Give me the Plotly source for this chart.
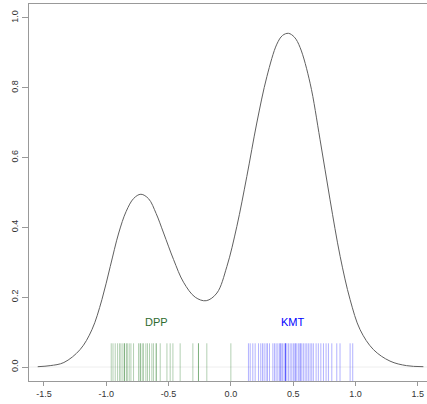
import plotly.graph_objects as go

# Density curve
dens_x = [-1.55, -1.45, -1.34, -1.21, -1.115, -1.035, -0.968, -0.90, -0.84, -0.78, -0.722,
          -0.66, -0.60, -0.54, -0.46, -0.38, -0.286, -0.198, -0.112, -0.032, 0.048, 0.128,
          0.208, 0.289, 0.369, 0.415, 0.462, 0.51, 0.556, 0.636, 0.716, 0.796, 0.877, 0.957,
          1.037, 1.144, 1.277, 1.41, 1.545]
dens_y = [0.001, 0.004, 0.013, 0.05, 0.107, 0.193, 0.288, 0.384, 0.446, 0.483, 0.495,
          0.482, 0.44, 0.384, 0.308, 0.243, 0.2, 0.19, 0.212, 0.288, 0.403, 0.546,
          0.699, 0.832, 0.925, 0.950, 0.956, 0.945, 0.915, 0.813, 0.651, 0.479, 0.317, 0.193,
          0.107, 0.05, 0.017, 0.004, 0.001]

# Rug values
dpp = [-0.96, -0.946, -0.928, -0.909, -0.893, -0.882, -0.866, -0.853, -0.853, -0.834,
       -0.834, -0.816, -0.802, -0.781, -0.741, -0.727, -0.727, -0.711, -0.701, -0.682,
       -0.669, -0.653, -0.634, -0.621, -0.599, -0.599, -0.567, -0.513, -0.487, -0.465,
       -0.407, -0.305, -0.26, -0.26, -0.193, 0.0]
kmt = [0.141, 0.155, 0.176, 0.195, 0.222, 0.24, 0.254, 0.267, 0.283, 0.294,
       0.31, 0.337, 0.35, 0.363, 0.377, 0.39, 0.401, 0.401, 0.414, 0.427,
       0.438, 0.438, 0.438, 0.449, 0.462, 0.476, 0.489, 0.502, 0.516, 0.516,
       0.529, 0.542, 0.556, 0.556, 0.569, 0.582, 0.596, 0.609, 0.622, 0.636,
       0.649, 0.662, 0.684, 0.702, 0.722, 0.743, 0.764, 0.783, 0.81, 0.85,
       0.876, 0.957, 0.978]

x_ticks = [-1.5, -1.0, -0.5, 0.0, 0.5, 1.0, 1.5]
x_tick_labels = ["-1.5", "-1.0", "-0.5", "0.0", "0.5", "1.0", "1.5"]
y_ticks = [0.0, 0.2, 0.4, 0.6, 0.8, 1.0]
y_tick_labels = ["0.0", "0.2", "0.4", "0.6", "0.8", "1.0"]

labels = ["DPP", "KMT"]
label_x = [-0.60, 0.50]
label_y = [0.13, 0.13]
label_colors = ["#2e6b2e", "#0000ff"]

fig = go.Figure()
fig.add_trace(go.Scatter(x=dens_x, y=dens_y, mode="lines",
                         line=dict(color="#606060", width=1, shape="spline", smoothing=1.0),
                         hoverinfo="skip", showlegend=False))

shapes = []
shapes.append(dict(type="line", xref="paper", yref="y", x0=0, x1=1, y0=0, y1=0,
                   line=dict(color="#eeeeee", width=1), layer="below"))
for v in dpp:
    shapes.append(dict(type="line", xref="x", yref="y", x0=v, x1=v, y0=-0.04, y1=0.068,
                       line=dict(color="rgba(0,100,0,0.3)", width=1)))
for v in kmt:
    shapes.append(dict(type="line", xref="x", yref="y", x0=v, x1=v, y0=-0.04, y1=0.068,
                       line=dict(color="rgba(0,0,255,0.3)", width=1)))

annotations = []
for t, xx, yy, c in zip(labels, label_x, label_y, label_colors):
    annotations.append(dict(x=xx, y=yy, text=t, showarrow=False, xref="x", yref="y",
                            font=dict(family="Liberation Sans, Arial", size=11, color=c),
                            xanchor="center", yanchor="middle"))

fig.update_layout(
    width=427, height=404,
    margin=dict(l=29, r=0, t=4, b=23),
    paper_bgcolor="white", plot_bgcolor="white",
    shapes=shapes, annotations=annotations,
    font=dict(family="Liberation Sans, Arial", size=9, color="#333333"),
    xaxis=dict(range=[-1.62, 1.574], showgrid=False, zeroline=False,
               showline=True, mirror=True, linecolor="#999999", linewidth=1,
               ticks="outside", ticklen=4, tickcolor="#999999",
               tickvals=x_ticks, ticktext=x_tick_labels,
               tickfont=dict(size=9, color="#333333")),
    yaxis=dict(range=[-0.04, 1.04], showgrid=False, zeroline=False,
               showline=True, mirror=False, linecolor="#999999", linewidth=1,
               ticks="outside", ticklen=6, tickcolor="#999999",
               tickvals=y_ticks, ticktext=y_tick_labels, tickangle=-90,
               tickfont=dict(size=9, color="#333333")),
)

fig.write_html("out.html")
